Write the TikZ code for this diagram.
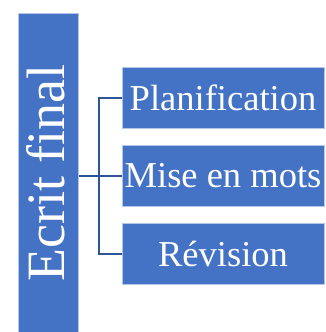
\documentclass[tikz,border=0pt]{standalone}
\usepackage{fontspec}
\setmainfont{Liberation Serif}
\definecolor{boxblue}{HTML}{4472C4}
\definecolor{linkblue}{HTML}{2F5597}
\begin{document}
\begin{tikzpicture}[x=1pt,y=-1pt,
  box/.style={fill=boxblue,draw=boxblue!40!white,line width=0.6pt,inner sep=0pt,text=white,minimum width=202pt,minimum height=61pt,font=\fontsize{36.5}{40}\selectfont},
  link/.style={draw=linkblue,line width=2pt}]
\useasboundingbox (0,0) rectangle (325,332);
\node[fill=boxblue,draw=boxblue!40!white,line width=0.6pt,inner sep=0pt,minimum width=60pt,minimum height=322pt,anchor=north west] (bar) at (18,13) {};
\node[rotate=90,text=white,font=\fontsize{54}{58}\selectfont] (title) at (46,173) {Ecrit final};
\node[box] (p) at (223,97.5) {Planification};
\node[box] (m) at (223,175.5) {Mise en mots};
\node[box] (r) at (223,253.5) {Révision};
\coordinate (j) at (99,175.5);
\draw[link] (bar.east |- j) -- (j);
\draw[link] (p.west) -| (j) |- (r.west);
\draw[link] (j) -- (m.west);
\end{tikzpicture}
\end{document}
